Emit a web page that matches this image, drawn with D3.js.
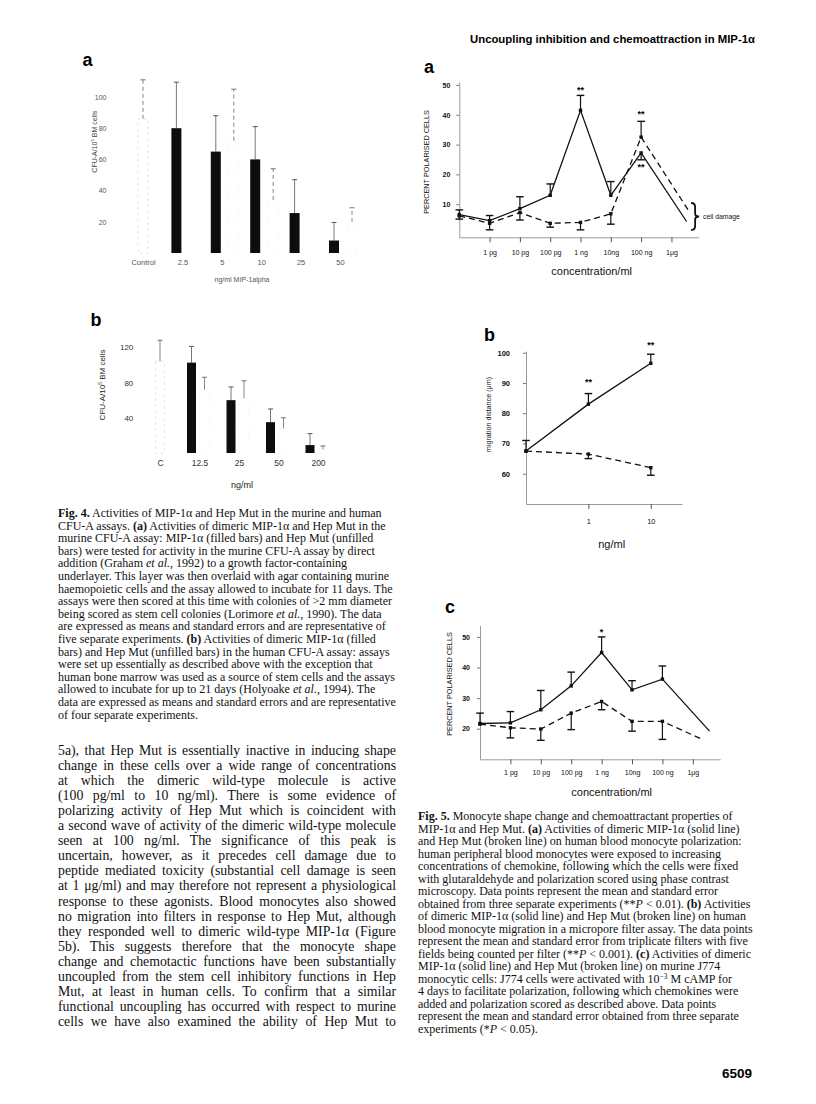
<!DOCTYPE html>
<html>
<head>
<meta charset="utf-8">
<script src="https://cdn.jsdelivr.net/npm/d3@7"></script>
<style>
body { margin: 0; background: #fff; }
svg { display: block; }
</style>
</head>
<body>
<div id="page"></div>
<script>
// ---- Fig 4a : murine CFU-A (filled = MIP-1a, unfilled = Hep Mut)
var f4aCats = ["Control", "2.5", "5", "10", "25", "50"];
var f4aMip = [null, 80, 65, 60, 25.6, 8];
var f4aMipErr = [null, 109.5, 88, 81, 47, 19.6];
var f4aHep = [86, null, 72, 34, null, 20];
var f4aHepErr = [111, null, 105, 54, null, 29];
var f4aTicks = [20, 40, 60, 80, 100];

// ---- Fig 4b : human CFU-A
var f4bCats = ["C", "12.5", "25", "50", "200"];
var f4bMip = [null, 102.6, 60, 35, 9];
var f4bMipErr = [null, 121, 75, 50, 22];
var f4bHep = [104, 72, 62, 28, 4];
var f4bHepErr = [128, 86, 82, 40, 8];
var f4bTicks = [40, 80, 120];

// ---- Fig 5a : monocyte polarisation
var concLabels = ["1 pg", "10 pg", "100 pg", "1 ng", "10ng", "100 ng", "1\u03bcg"];
var concTicks = [1, 2, 3, 4, 5, 6, 7];
var f5aMipX = [0, 1, 2, 3, 4, 5, 6, 7.5];
var f5aMip = [6.5, 4.5, 8.5, 13, 41.5, 13, 27.2, 4.2];
var f5aMipErr = [8.1, 6.2, 12.5, 16.8, 46.5, 17.6, 24.9, null];
var f5aHepX = [0, 1, 2, 3, 4, 5, 6, 7.55];
var f5aHep = [6.1, 3.6, 7.2, 3.6, 3.9, 6.8, 32.5, 8.1];
var f5aHepErr = [5, 1.4, 4.7, 2.3, 1.4, 3.3, 37.8, null];
var f5aStarX = [4, 6, 6];
var f5aStarV = [48.9, 41, 23.2];
var f5aStars = ["**", "**", "**"];
var f5aDamage = [1.35, 10.4];

// ---- Fig 5b : migration distance
var f5bX = [0, 1, 2];
var f5bMip = [67.5, 83, 96.5];
var f5bMipErr = [71, 86.5, 99.5];
var f5bHep = [67.5, 66.5, 62];
var f5bHepErr = [null, 65, 59.5];
var f5bStarX = [1, 2];
var f5bStarV = [91, 103.1];
var f5bStars = ["**", "**"];

// ---- Fig 5c : J774 polarisation
var f5cMipX = [0, 1, 2, 3, 4, 5, 6, 7.55];
var f5cMip = [21.7, 21.9, 26.2, 34, 44.9, 32.7, 36.2, 19.2];
var f5cMipErr = [25.1, 25.6, 32.5, 38.5, 50, 35.7, 40.5, null];
var f5cHepX = [0, 1, 2, 3, 4, 5, 6, 7.25];
var f5cHep = [21.5, 20.3, 19.9, 25.1, 28.9, 22.4, 22.4, 16.8];
var f5cHepErr = [null, 17, 16.2, 19.7, 26.2, 19.2, 16.5, null];
var f5cStarX = [4];
var f5cStarV = [52.4];
var f5cStars = ["*"];

// ---- text
var headerText = "Uncoupling inhibition and chemoattraction in MIP-1\u03b1";

var fig4Caption = [
  "<b>Fig. 4.</b> Activities of MIP-1\u03b1 and Hep Mut in the murine and human",
  "CFU-A assays. <b>(a)</b> Activities of dimeric MIP-1\u03b1 and Hep Mut in the",
  "murine CFU-A assay: MIP-1\u03b1 (filled bars) and Hep Mut (unfilled",
  "bars) were tested for activity in the murine CFU-A assay by direct",
  "addition (Graham <i>et al.</i>, 1992) to a growth factor-containing",
  "underlayer. This layer was then overlaid with agar containing murine",
  "haemopoietic cells and the assay allowed to incubate for 11 days. The",
  "assays were then scored at this time with colonies of >2 mm diameter",
  "being scored as stem cell colonies (Lorimore <i>et al.</i>, 1990). The data",
  "are expressed as means and standard errors and are representative of",
  "five separate experiments. <b>(b)</b> Activities of dimeric MIP-1\u03b1 (filled",
  "bars) and Hep Mut (unfilled bars) in the human CFU-A assay: assays",
  "were set up essentially as described above with the exception that",
  "human bone marrow was used as a source of stem cells and the assays",
  "allowed to incubate for up to 21 days (Holyoake <i>et al.</i>, 1994). The",
  "data are expressed as means and standard errors and are representative",
  "of four separate experiments."
];

var bodyLines = [
  "5a), that Hep Mut is essentially inactive in inducing shape",
  "change in these cells over a wide range of concentrations",
  "at which the dimeric wild-type molecule is active",
  "(100 pg/ml to 10 ng/ml). There is some evidence of",
  "polarizing activity of Hep Mut which is coincident with",
  "a second wave of activity of the dimeric wild-type molecule",
  "seen at 100 ng/ml. The significance of this peak is",
  "uncertain, however, as it precedes cell damage due to",
  "peptide mediated toxicity (substantial cell damage is seen",
  "at 1 \u03bcg/ml) and may therefore not represent a physiological",
  "response to these agonists. Blood monocytes also showed",
  "no migration into filters in response to Hep Mut, although",
  "they responded well to dimeric wild-type MIP-1\u03b1 (Figure",
  "5b). This suggests therefore that the monocyte shape",
  "change and chemotactic functions have been substantially",
  "uncoupled from the stem cell inhibitory functions in Hep",
  "Mut, at least in human cells. To confirm that a similar",
  "functional uncoupling has occurred with respect to murine",
  "cells we have also examined the ability of Hep Mut to"
];

var fig5Caption = [
  "<b>Fig. 5.</b> Monocyte shape change and chemoattractant properties of",
  "MIP-1\u03b1 and Hep Mut. <b>(a)</b> Activities of dimeric MIP-1\u03b1 (solid line)",
  "and Hep Mut (broken line) on human blood monocyte polarization:",
  "human peripheral blood monocytes were exposed to increasing",
  "concentrations of chemokine, following which the cells were fixed",
  "with glutaraldehyde and polarization scored using phase contrast",
  "microscopy. Data points represent the mean and standard error",
  "obtained from three separate experiments (**<i>P</i> < 0.01). <b>(b)</b> Activities",
  "of dimeric MIP-1\u03b1 (solid line) and Hep Mut (broken line) on human",
  "blood monocyte migration in a micropore filter assay. The data points",
  "represent the mean and standard error from triplicate filters with five",
  "fields being counted per filter (**<i>P</i> < 0.001). <b>(c)</b> Activities of dimeric",
  "MIP-1\u03b1 (solid line) and Hep Mut (broken line) on murine J774",
  "monocytic cells: J774 cells were activated with 10<sup>\u22123</sup> M cAMP for",
  "4 days to facilitate polarization, following which chemokines were",
  "added and polarization scored as described above. Data points",
  "represent the mean and standard error obtained from three separate",
  "experiments (*<i>P</i> < 0.05)."
];

var SANS = "'Liberation Sans', Arial, Helvetica, sans-serif";
var SERIF = "'Liberation Serif', 'Times New Roman', serif";

var svg = d3.select("#page")
            .append("svg")
            .attr("width", 816)
            .attr("height", 1104)
            .style("background", "#fff");

// text with <b>, <i>, <sup> pieces
function richText(g, str, x, y, fs) {
  var t = g.append("text").attr("x", x).attr("y", y).attr("font-size", fs);
  var parts = str.split(/(<b>.*?<\/b>|<i>.*?<\/i>|<sup>.*?<\/sup>)/);
  var back = 0;
  parts.forEach(function(p) {
    if (p === "") return;
    var m = p.match(/^<(b|i|sup)>(.*)<\/(?:b|i|sup)>$/);
    var ts = t.append("tspan");
    if (back) { ts.attr("dy", back); back = 0; }
    if (!m) { ts.text(p); return; }
    ts.text(m[2]);
    if (m[1] == "b") ts.attr("font-weight", "bold");
    if (m[1] == "i") ts.attr("font-style", "italic");
    if (m[1] == "sup") {
      ts.attr("dy", -fs * 0.3).attr("font-size", fs * 0.62);
      back = fs * 0.3;
    }
  });
  return t;
}

function panelLetter(letter, x, y) {
  svg.append("text")
     .attr("x", x).attr("y", y)
     .attr("font-family", SANS)
     .attr("font-weight", "bold")
     .attr("font-size", 18)
     .text(letter);
}

function yTitle(str, x, y, fs, fill) {
  var g = svg.append("g")
     .attr("transform", "translate(" + x + "," + y + ") rotate(-90)")
     .attr("font-family", SANS)
     .attr("fill", fill || "#111");
  richText(g, str, 0, 0, fs).attr("text-anchor", "middle");
}

// ---------------- bar panels (Fig 4) ----------------
function barPanel(cfg) {
  var g = svg.append("g").attr("font-family", SANS);
  var x = d3.scalePoint().domain(cfg.cats).range(cfg.xRange);
  var y = d3.scaleLinear().domain([0, cfg.yMax]).range(cfg.yRange);
  var rows = cfg.cats.map(function(c, i) {
    return { cat: c, mip: cfg.mip[i], mipErr: cfg.mipErr[i], hep: cfg.hep[i], hepErr: cfg.hepErr[i] };
  });
  var bw = cfg.bw;
  function mipX(d) { return x(d.cat) + cfg.mipOff; }
  function hepX(d) { return d.mip == null ? x(d.cat) : x(d.cat) + cfg.hepOff; }

  var hepRows = rows.filter(function(d) { return d.hep != null; });
  var mipRows = rows.filter(function(d) { return d.mip != null; });

  // unfilled bars, barely visible on the scan
  g.selectAll("rect.hep")
   .data(hepRows)
   .enter()
   .append("rect")
   .attr("x", function(d) { return hepX(d) - bw / 2; })
   .attr("y", function(d) { return y(d.hep); })
   .attr("width", bw)
   .attr("height", function(d) { return y(0) - y(d.hep); })
   .attr("fill", "none")
   .attr("stroke", function(d) { return d.mip == null ? "#cdcdcd" : "#efefef"; })
   .attr("stroke-width", 0.7)
   .attr("stroke-dasharray", "2,4");

  g.selectAll("line.hepErr")
   .data(hepRows)
   .enter()
   .append("line")
   .attr("x1", hepX).attr("x2", hepX)
   .attr("y1", function(d) { return y(d.hep); })
   .attr("y2", function(d) { return y(d.hepErr); })
   .attr("stroke", "#777")
   .attr("stroke-width", 0.9)
   .attr("stroke-dasharray", cfg.hepDash);

  g.selectAll("line.hepCap")
   .data(hepRows)
   .enter()
   .append("line")
   .attr("x1", function(d) { return hepX(d) - 2.5; })
   .attr("x2", function(d) { return hepX(d) + 2.5; })
   .attr("y1", function(d) { return y(d.hepErr); })
   .attr("y2", function(d) { return y(d.hepErr); })
   .attr("stroke", "#666")
   .attr("stroke-width", 0.9);

  // filled bars
  g.selectAll("line.mipErr")
   .data(mipRows)
   .enter()
   .append("line")
   .attr("x1", mipX).attr("x2", mipX)
   .attr("y1", function(d) { return y(d.mip); })
   .attr("y2", function(d) { return y(d.mipErr); })
   .attr("stroke", "#555")
   .attr("stroke-width", 0.8);

  g.selectAll("line.mipCap")
   .data(mipRows)
   .enter()
   .append("line")
   .attr("x1", function(d) { return mipX(d) - 2.5; })
   .attr("x2", function(d) { return mipX(d) + 2.5; })
   .attr("y1", function(d) { return y(d.mipErr); })
   .attr("y2", function(d) { return y(d.mipErr); })
   .attr("stroke", "#444")
   .attr("stroke-width", 0.9);

  g.selectAll("rect.mip")
   .data(mipRows)
   .enter()
   .append("rect")
   .attr("x", function(d) { return mipX(d) - bw / 2; })
   .attr("y", function(d) { return y(d.mip); })
   .attr("width", bw)
   .attr("height", function(d) { return y(0) - y(d.mip); })
   .attr("fill", "#0d0d0d");

  // tick labels only, no axis lines on the original
  var ya = g.append("g")
     .attr("transform", "translate(" + cfg.tickRight + ",0)")
     .call(d3.axisLeft(y).tickValues(cfg.ticks).tickSize(0).tickPadding(0));
  ya.select(".domain").remove();
  ya.attr("font-family", SANS).attr("font-size", cfg.fs);
  ya.selectAll("text").attr("fill", cfg.color);

  var xa = g.append("g")
     .attr("transform", "translate(0," + cfg.catY + ")")
     .call(d3.axisBottom(x).tickSize(0).tickPadding(2));
  xa.select(".domain").remove();
  xa.attr("font-family", SANS).attr("font-size", cfg.fs + 0.5);
  xa.selectAll("text").attr("fill", cfg.color);
}

barPanel({
  cats: f4aCats, mip: f4aMip, mipErr: f4aMipErr, hep: f4aHep, hepErr: f4aHepErr,
  ticks: f4aTicks, yMax: 100, yRange: [253, 97], xRange: [143, 340],
  bw: 10, mipOff: -6, hepOff: 12, tickRight: 106.5, catY: 258,
  fs: 7, color: "#555", hepDash: "4,3"
});

barPanel({
  cats: f4bCats, mip: f4bMip, mipErr: f4bMipErr, hep: f4bHep, hepErr: f4bHepErr,
  ticks: f4bTicks, yMax: 120, yRange: [453, 347.3], xRange: [160, 318],
  bw: 9, mipOff: -8, hepOff: 5, tickRight: 133.3, catY: 457.5,
  fs: 8, color: "#333", hepDash: null
});

panelLetter("a", 82.5, 66);
panelLetter("b", 90.5, 326);
yTitle("CFU-A/10<sup>5</sup> BM cells", 96.5, 141.7, 7, "#444");
yTitle("CFU-A/10<sup>5</sup> BM cells", 104.5, 385, 8, "#222");

svg.append("text")
   .attr("x", 242).attr("y", 282)
   .attr("text-anchor", "middle")
   .attr("font-family", SANS).attr("font-size", 7)
   .attr("fill", "#555")
   .text("ng/ml MIP-1alpha");

svg.append("text")
   .attr("x", 242).attr("y", 488)
   .attr("text-anchor", "middle")
   .attr("font-family", SANS).attr("font-size", 9)
   .attr("fill", "#222")
   .text("ng/ml");

// ---------------- line panels (Fig 5) ----------------
function linePanel(cfg) {
  var g = svg.append("g").attr("font-family", SANS);
  var x = d3.scaleLinear().domain([0, cfg.xMax]).range(cfg.xRange);
  var y = d3.scaleLinear().domain(cfg.yDomain).range(cfg.yRange);

  var ya = g.append("g")
     .attr("transform", "translate(" + x(0) + ",0)")
     .call(d3.axisLeft(y).tickValues(cfg.yTicks).tickSize(3).tickSizeOuter(0).tickPadding(cfg.yPad));
  ya.attr("font-family", SANS).attr("font-size", cfg.tickFs).attr("font-weight", "bold");
  ya.select(".domain").attr("stroke", "#9a9a9a");
  ya.selectAll(".tick line").attr("stroke", "#777");
  ya.selectAll("text").attr("fill", "#111");

  var xa = g.append("g")
     .attr("transform", "translate(0," + y(cfg.yDomain[0]) + ")")
     .call(d3.axisBottom(x).tickValues(cfg.xTicks)
             .tickFormat(function(d, i) { return cfg.xLabels[i]; })
             .tickSize(5).tickSizeOuter(0).tickPadding(cfg.xPad));
  xa.attr("font-family", SANS).attr("font-size", cfg.tickFs);
  xa.select(".domain").attr("stroke", "#9a9a9a");
  xa.selectAll(".tick line").attr("stroke", "#555");
  xa.selectAll("text").attr("fill", "#111");

  var line = d3.line()
      .x(function(d) { return x(d.x); })
      .y(function(d) { return y(d.v); });

  cfg.series.forEach(function(s) {
    var pts = s.v.map(function(v, i) { return { x: s.x[i], v: v, err: s.err[i] }; });

    g.append("path")
     .datum(pts)
     .attr("d", line)
     .attr("fill", "none")
     .attr("stroke", "#111")
     .attr("stroke-width", 1.3)
     .attr("stroke-dasharray", s.dash);

    var withErr = pts.filter(function(d) { return d.err != null; });
    g.selectAll(null)
     .data(withErr)
     .enter()
     .append("line")
     .attr("x1", function(d) { return x(d.x); })
     .attr("x2", function(d) { return x(d.x); })
     .attr("y1", function(d) { return y(d.v); })
     .attr("y2", function(d) { return y(d.err); })
     .attr("stroke", "#111")
     .attr("stroke-width", 1.2);
    g.selectAll(null)
     .data(withErr)
     .enter()
     .append("line")
     .attr("x1", function(d) { return x(d.x) - 3.8; })
     .attr("x2", function(d) { return x(d.x) + 3.8; })
     .attr("y1", function(d) { return y(d.err); })
     .attr("y2", function(d) { return y(d.err); })
     .attr("stroke", "#111")
     .attr("stroke-width", 1.4);

    g.selectAll(null)
     .data(pts.slice(0, pts.length - (s.openEnd ? 1 : 0)))
     .enter()
     .append("rect")
     .attr("x", function(d) { return x(d.x) - 1.7; })
     .attr("y", function(d) { return y(d.v) - 1.7; })
     .attr("width", 3.4)
     .attr("height", 3.4)
     .attr("fill", "#111");
  });

  g.selectAll(null)
   .data(cfg.starX)
   .enter()
   .append("text")
   .attr("x", function(d) { return x(d); })
   .attr("y", function(d, i) { return y(cfg.starV[i]) + 5; })
   .attr("text-anchor", "middle")
   .attr("font-size", 9)
   .attr("font-weight", "bold")
   .text(function(d, i) { return cfg.stars[i]; });

  if (cfg.damage) {
    var bx = x(7.65), b0 = y(cfg.damage[1]), b1 = y(cfg.damage[0]), bm = (b0 + b1) / 2;
    g.append("path")
     .attr("d", "M" + bx + "," + b0 + " Q" + (bx + 4) + "," + b0 + " " + (bx + 4) + "," + (b0 + 4) +
                " L" + (bx + 4) + "," + (bm - 3) + " Q" + (bx + 4) + "," + bm + " " + (bx + 8) + "," + bm +
                " Q" + (bx + 4) + "," + bm + " " + (bx + 4) + "," + (bm + 3) +
                " L" + (bx + 4) + "," + (b1 - 4) + " Q" + (bx + 4) + "," + b1 + " " + bx + "," + b1)
     .attr("fill", "none")
     .attr("stroke", "#111")
     .attr("stroke-width", 1.8);
    g.append("text")
     .attr("x", bx + 12).attr("y", bm + 2.5)
     .attr("font-size", 6.8)
     .attr("fill", "#111")
     .text("cell damage");
  }
  return { x: x, y: y };
}

linePanel({
  xMax: 7.9, xRange: [459.3, 698.7], yDomain: [-1.1, 51], yRange: [237.3, 82],
  yTicks: [10, 20, 30, 40, 50], xTicks: concTicks, xLabels: concLabels,
  yPad: 6, xPad: 8, tickFs: 7,
  series: [
    { x: f5aMipX, v: f5aMip, err: f5aMipErr, dash: null, openEnd: true },
    { x: f5aHepX, v: f5aHep, err: f5aHepErr, dash: "6,4", openEnd: true }
  ],
  starX: f5aStarX, starV: f5aStarV, stars: f5aStars,
  damage: f5aDamage
});

linePanel({
  xMax: 2.5, xRange: [526, 682], yDomain: [50, 100.5], yRange: [504, 351.2],
  yTicks: [60, 70, 80, 90, 100], xTicks: [1, 2], xLabels: ["1", "10"],
  yPad: 13, xPad: 10, tickFs: 7.5,
  series: [
    { x: f5bX, v: f5bMip, err: f5bMipErr, dash: null, openEnd: false },
    { x: f5bX, v: f5bHep, err: f5bHepErr, dash: "6,4", openEnd: false }
  ],
  starX: f5bStarX, starV: f5bStarV, stars: f5bStars
});

linePanel({
  xMax: 7.9, xRange: [480, 720.2], yDomain: [10, 53.7], yRange: [759.3, 625.6],
  yTicks: [20, 30, 40, 50], xTicks: concTicks, xLabels: concLabels,
  yPad: 7, xPad: 6, tickFs: 7,
  series: [
    { x: f5cMipX, v: f5cMip, err: f5cMipErr, dash: null, openEnd: true },
    { x: f5cHepX, v: f5cHep, err: f5cHepErr, dash: "6,4", openEnd: true }
  ],
  starX: f5cStarX, starV: f5cStarV, stars: f5cStars
});

panelLetter("a", 424, 72.5);
panelLetter("b", 484, 340.5);
panelLetter("c", 445, 612.5);

yTitle("PERCENT POLARISED CELLS", 428.5, 162, 7.3);
yTitle("migration distance (\u03bcm)", 490.5, 414.5, 7.2);
yTitle("PERCENT POLARISED CELLS", 451.5, 684, 7.3);

[[591.7, 274.5, "concentration/ml"], [611.7, 548, "ng/ml"], [611.7, 795.5, "concentration/ml"]].forEach(function(t) {
  svg.append("text")
     .attr("x", t[0]).attr("y", t[1])
     .attr("text-anchor", "middle")
     .attr("font-family", SANS)
     .attr("font-size", 11)
     .attr("fill", "#111")
     .text(t[2]);
});

// ---------------- running header, captions, body text ----------------
svg.append("text")
   .attr("x", 755).attr("y", 43)
   .attr("text-anchor", "end")
   .attr("font-family", SANS)
   .attr("font-weight", "bold")
   .attr("font-size", 10.5)
   .attr("textLength", 285)
   .attr("lengthAdjust", "spacingAndGlyphs")
   .text(headerText);

var cap4 = svg.append("g").attr("font-family", SERIF).attr("fill", "#111");
fig4Caption.forEach(function(s, i) {
  richText(cap4, s, 58, 517 + i * 12.6, 12);
});

var cap5 = svg.append("g").attr("font-family", SERIF).attr("fill", "#111");
fig5Caption.forEach(function(s, i) {
  richText(cap5, s, 418, 820 + i * 12.5, 12);
});

var bodyLeft = 58, bodyRight = 396;
var body = svg.append("g").attr("font-family", SERIF).attr("font-size", 13.8).attr("fill", "#111");
bodyLines.forEach(function(s, i) {
  var t = body.append("text")
     .attr("x", bodyLeft)
     .attr("y", 754.5 + i * 15.1)
     .text(s);
  var w = t.node().getComputedTextLength();
  var gaps = s.split(" ").length - 1;
  t.attr("word-spacing", (bodyRight - bodyLeft - w) / gaps);
});

svg.append("text")
   .attr("x", 752).attr("y", 1078)
   .attr("text-anchor", "end")
   .attr("font-family", SANS)
   .attr("font-weight", "bold")
   .attr("font-size", 13.5)
   .text("6509");
</script>
</body>
</html>
